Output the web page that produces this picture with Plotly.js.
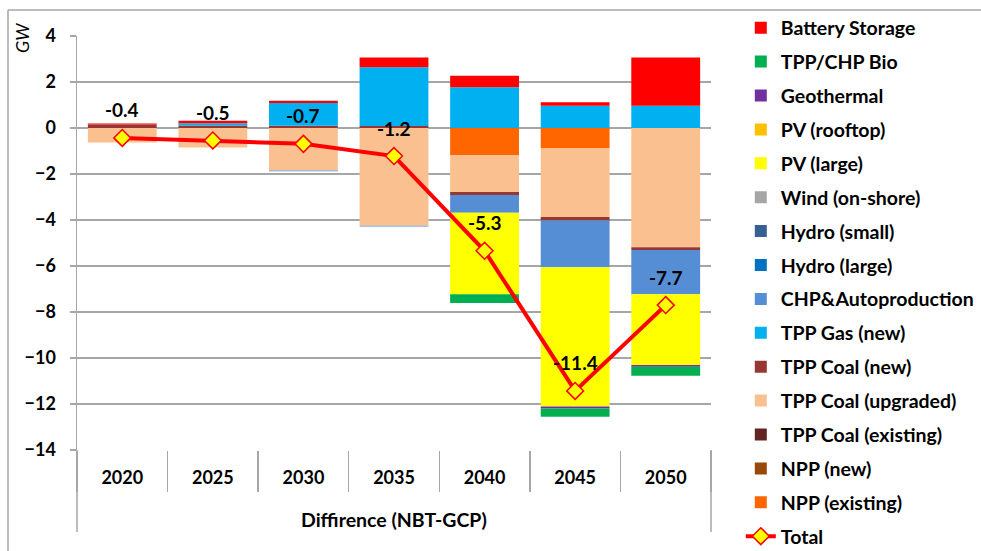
<!DOCTYPE html>
<html>
<head>
<meta charset="utf-8">
<script src="https://cdn.plot.ly/plotly-3.0.1.min.js"></script>
<style>
html,body{margin:0;padding:0;background:#fff;}
#chart{width:981px;height:551px;}
</style>
</head>
<body>
<div id="chart"></div>
<script>
// ---- data (GW, difference NBT-GCP) ----
const years = ["2020", "2025", "2030", "2035", "2040", "2045", "2050"];

const nppExisting   = [0, 0, 0, 0, -1.17, -0.87, 0];
const nppNew        = [0, 0, 0, 0, 0, 0, 0];
const coalExisting  = [0, 0, 0, 0, 0, 0, 0];
const coalUpgraded  = [-0.63, -0.85, -1.85, -4.25, -1.61, -3.00, -5.18];
const coalNew       = [0.15, 0.11, 0.10, 0.09, -0.13, -0.15, -0.12];
const gasNew        = [0, 0.10, 0.99, 2.55, 1.77, 0.97, 0.97];
const chpAuto       = [0, 0, -0.03, -0.03, -0.77, -2.03, -1.93];
const hydroLarge    = [0, 0, 0, 0, 0, 0, 0];
const hydroSmall    = [0, 0, 0, 0, 0, 0, 0];
const windOnshore   = [0, 0, 0, 0, 0, 0, 0];
const pvLarge       = [0, 0, 0, 0, -3.55, -6.06, -3.07];
const pvRooftop     = [0, 0, 0, 0, 0, 0, 0];
const geothermal    = [0, 0, 0, 0, 0, -0.09, -0.08];
const bio           = [0, 0, 0, 0, -0.38, -0.35, -0.39];
const battery       = [0.05, 0.10, 0.10, 0.42, 0.50, 0.15, 2.10];
const total         = [-0.43, -0.54, -0.69, -1.22, -5.34, -11.43, -7.70];

const yTicks = [4, 2, 0, -2, -4, -6, -8, -10, -12, -14];

// ---- series definitions (stack order from zero outward) ----
const series = [
  {name: "NPP (existing)",      y: nppExisting,  color: "#FF6600"},
  {name: "NPP (new)",           y: nppNew,       color: "#984807"},
  {name: "TPP Coal (existing)", y: coalExisting, color: "#632523"},
  {name: "TPP Coal (upgraded)", y: coalUpgraded, color: "#FAC090"},
  {name: "TPP Coal (new)",      y: coalNew,      color: "#953735"},
  {name: "TPP Gas (new)",       y: gasNew,       color: "#00B0F0"},
  {name: "CHP&Autoproduction",  y: chpAuto,      color: "#558ED5"},
  {name: "Hydro (large)",       y: hydroLarge,   color: "#0070C0"},
  {name: "Hydro (small)",       y: hydroSmall,   color: "#376092"},
  {name: "Wind (on-shore)",     y: windOnshore,  color: "#A6A6A6"},
  {name: "PV (large)",          y: pvLarge,      color: "#FFFF00"},
  {name: "PV (rooftop)",        y: pvRooftop,    color: "#FFC000"},
  {name: "Geothermal",          y: geothermal,   color: "#7030A0"},
  {name: "TPP/CHP Bio",         y: bio,          color: "#00B050"},
  {name: "Battery Storage",     y: battery,      color: "#FF0000"}
];

const FONT = 'Lato, "Open Sans", "Liberation Sans", sans-serif';
const GRID = "#A6A6A6";

const traces = series.map((s, i) => ({
  type: "bar",
  name: s.name,
  x: years,
  y: s.y,
  width: 0.76,
  marker: {color: s.color, line: {width: 0}},
  legendgroup: "g" + i,
  legendrank: series.length - i,
  hoverinfo: "name+y"
}));

traces.push({
  type: "scatter",
  mode: "lines+markers",
  name: "Total",
  x: years,
  y: total,
  line: {color: "#FF0000", width: 4},
  marker: {symbol: "diamond", size: 13, color: "#FFFF00", line: {color: "#FF0000", width: 1.5}},
  legendgroup: "gTotal",
  legendrank: 100
});

// paper-coordinate helpers for frame decorations
const plotL = 77, plotR = 711, plotT = 36, plotB = 450;
const px2x = p => (p - plotL) / (plotR - plotL);
const px2y = p => (plotB - p) / (plotB - plotT);

const annotations = years.map((yr, i) => ({
  x: i, y: total[i], xref: "x", yref: "y",
  xanchor: "center", yanchor: "middle",
  text: total[i].toFixed(1),
  showarrow: false, yshift: 28,
  font: {family: FONT, size: 19, color: "#000", weight: 700}
}));

annotations.push({
  xref: "paper", yref: "paper",
  x: px2x(22), y: px2y(38), xanchor: "center", yanchor: "middle",
  text: "GW", textangle: -90, showarrow: false,
  font: {family: FONT, size: 18, color: "#000", style: "italic"}
});

annotations.push({
  xref: "paper", yref: "paper",
  x: 0.5, y: px2y(519), xanchor: "center", yanchor: "middle",
  text: "Diffirence (NBT-GCP)", showarrow: false,
  font: {family: FONT, size: 19.5, color: "#000", weight: 700}
});

const shapes = [
  // outer chart border
  {type: "line", xref: "paper", yref: "paper", x0: px2x(8), x1: px2x(990), y0: px2y(10), y1: px2y(10), line: {color: GRID, width: 1.5}},
  {type: "line", xref: "paper", yref: "paper", x0: px2x(8), x1: px2x(8), y0: px2y(10), y1: px2y(560), line: {color: GRID, width: 1.5}},
  // category table frame extensions below the plot
  {type: "line", xref: "paper", yref: "paper", x0: 0, x1: 0, y0: 0, y1: px2y(532), line: {color: GRID, width: 1.5}},
  {type: "line", xref: "paper", yref: "paper", x0: 1, x1: 1, y0: 0, y1: px2y(532), line: {color: GRID, width: 1.5}}
];

const boundaries = years.map((_, i) => i + 0.5);
boundaries.unshift(-0.5);

const layout = {
  width: 981, height: 551,
  margin: {l: plotL, r: 981 - plotR, t: plotT, b: 551 - plotB, pad: 0, autoexpand: false},
  paper_bgcolor: "#fff", plot_bgcolor: "#fff",
  font: {family: FONT, color: "#000"},
  barmode: "relative",
  showlegend: true,
  legend: {
    x: 1.047, xanchor: "left", y: px2y(8.5), yanchor: "top",
    traceorder: "grouped", tracegroupgap: 5.55, maxheight: 551,
    font: {family: FONT, size: 19.5, color: "#000", weight: 700},
    bgcolor: "rgba(0,0,0,0)", borderwidth: 0
  },
  xaxis: {
    type: "category", categoryorder: "array", categoryarray: years,
    range: [-0.5, years.length - 0.5],
    tickson: "boundaries", ticks: "outside", ticklen: 41, tickcolor: GRID, tickwidth: 1.5,
    ticklabelstandoff: 15,
    showline: false, showgrid: false, zeroline: false,
    tickfont: {family: FONT, size: 18, color: "#000", weight: 700},
    automargin: false, fixedrange: true
  },
  xaxis2: {
    overlaying: "x", anchor: "free", position: px2y(128),
    range: [-0.5, years.length - 0.5],
    tickmode: "array", tickvals: boundaries,
    ticks: "outside", ticklen: 6, tickcolor: GRID, tickwidth: 1.5,
    showline: true, linecolor: GRID, linewidth: 1.5,
    showticklabels: false, showgrid: false, zeroline: false,
    automargin: false, fixedrange: true
  },
  yaxis: {
    range: [-14, 4], tickmode: "array", tickvals: yTicks,
    ticks: "outside", ticklen: 6, tickcolor: GRID, tickwidth: 1.5,
    ticklabelstandoff: 10,
    showline: true, linecolor: GRID, linewidth: 1.5,
    showgrid: true, gridcolor: GRID, gridwidth: 1.5,
    zeroline: false,
    tickfont: {family: FONT, size: 18, color: "#000", weight: 700},
    automargin: false, fixedrange: true
  },
  annotations: annotations,
  shapes: shapes
};

Plotly.newPlot("chart", traces, layout, {displayModeBar: false, staticPlot: true});
</script>
</body>
</html>
